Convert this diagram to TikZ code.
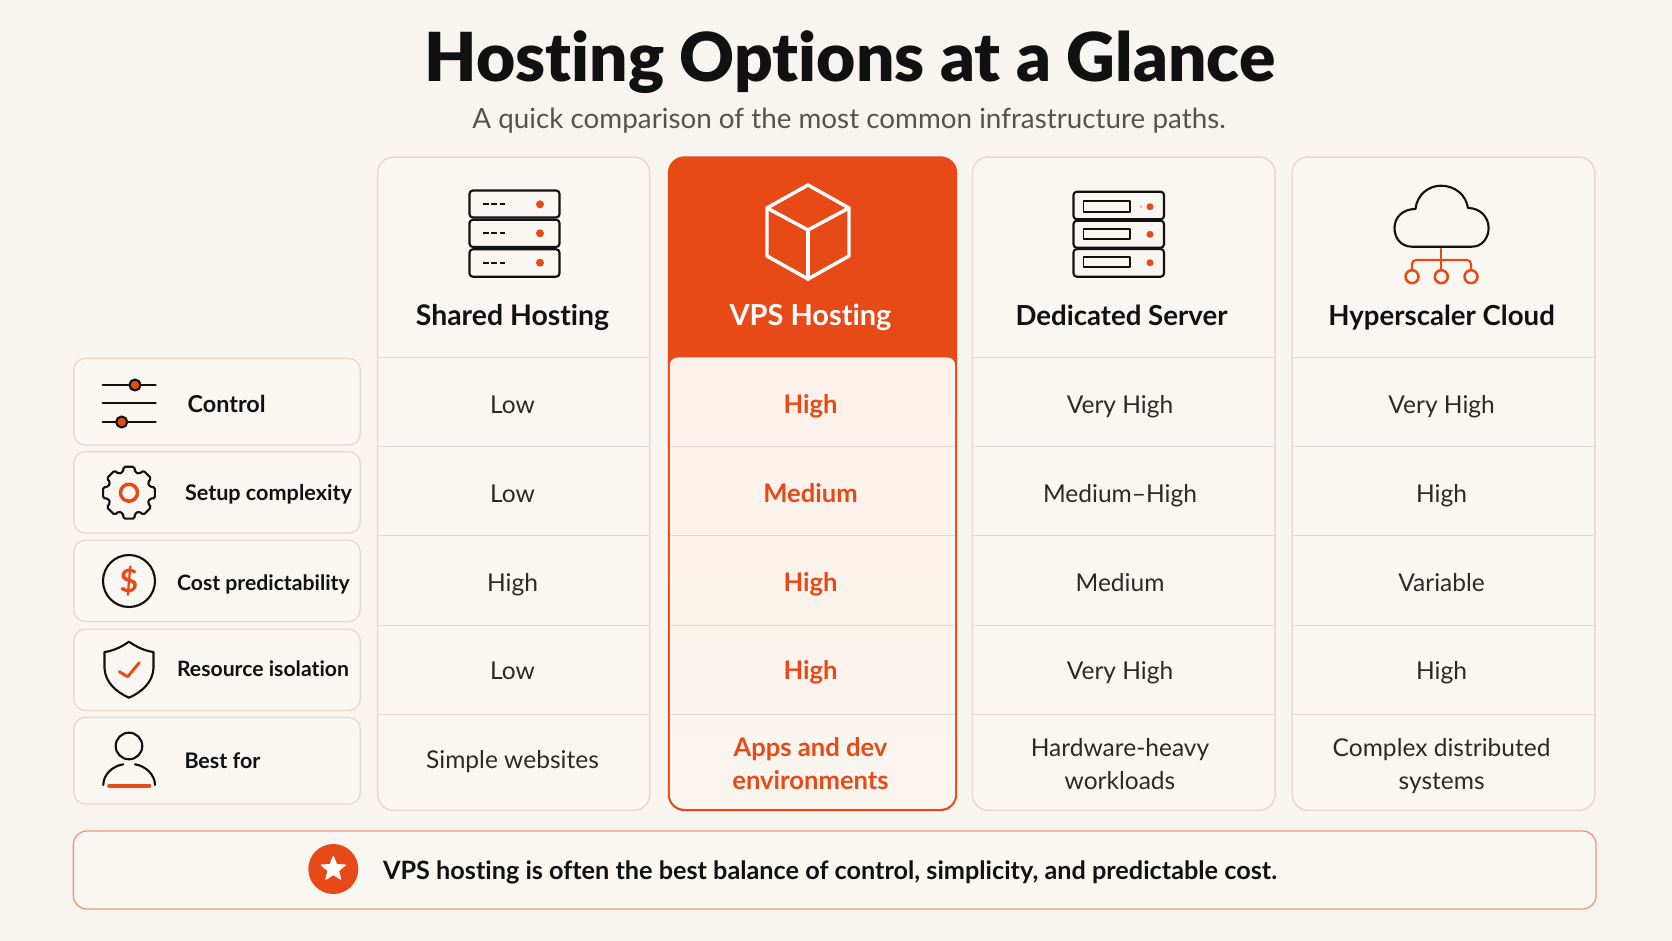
\documentclass[tikz,border=0pt]{standalone}
\usepackage{fontspec}
\setmainfont{Lato}[Ligatures=NoCommon]
\newfontfamily\titlefont{Lato Black}[Ligatures=NoCommon]
\usetikzlibrary{positioning, shapes.geometric}

\definecolor{pagebg}{HTML}{F8F5F0}
\definecolor{cardbg}{HTML}{FAF7F3}
\definecolor{cardline}{HTML}{E5DACD}
\definecolor{accent}{HTML}{E84A17}
\definecolor{accentpale}{HTML}{F19A7C}
\definecolor{vpstop}{HTML}{FDF2EB}
\definecolor{vpsend}{HTML}{FAF5EF}
\definecolor{inkdark}{HTML}{111111}
\definecolor{inkgrey}{HTML}{55534F}
\definecolor{inkbody}{HTML}{2B2A28}

\begin{document}
\begin{tikzpicture}[
        x=0.75pt, y=-0.75pt,
        every node/.style={inner sep=0pt, outer sep=0pt},
        maintitle/.style={font=\fontsize{50.7pt}{54pt}\titlefont, text=inkdark},
        subtitle/.style={font=\fontsize{20.85pt}{24pt}\selectfont, text=inkgrey},
        colcard/.style={draw=cardline, line width=1.1pt, fill=cardbg, rounded corners=12pt, minimum height=490pt},
        vpscard/.style={draw=accent, fill=accent, line width=1.1pt, rounded corners=12pt, minimum width=216pt, minimum height=490pt},
        vpsbody/.style={minimum width=214pt, minimum height=338.5pt},
        rowlabel/.style={draw=cardline, line width=1pt, fill=cardbg, rounded corners=9pt, minimum width=215pt},
        labeltext/.style={anchor=west, font=\fontsize{16pt}{20pt}\selectfont\bfseries, text=inkdark},
        coltitle/.style={font=\fontsize{20.7pt}{24pt}\selectfont\bfseries, text=inkdark, text height=15pt, text depth=5pt},
        cell/.style={font=\fontsize{18.4pt}{24.75pt}\selectfont, text=inkbody, align=center, text height=13pt, text depth=4pt, minimum height=66.75pt},
        cellwide/.style={font=\fontsize{18.4pt}{24.75pt}\selectfont, text=inkbody, align=center},
        vpscell/.style={cell, text=accent, font=\fontsize{19.2pt}{24.75pt}\selectfont\bfseries},
        vpswide/.style={cellwide, text=accent, font=\fontsize{19.2pt}{24.75pt}\selectfont\bfseries},
        sep/.style={draw=cardline, line width=0.9pt},
        banner/.style={draw=accentpale, line width=1pt, fill=cardbg, rounded corners=10pt, minimum width=1142pt, minimum height=58.5pt},
        bannertext/.style={anchor=west, font=\fontsize{18.93pt}{23pt}\selectfont\bfseries, text=inkdark},
        badge/.style={circle, fill=accent, minimum size=37.5pt},
        badgestar/.style={star, star points=5, star point ratio=2.3, fill=white, draw=white, line join=round, line width=0.8pt, minimum size=19pt},
        icon/.style={draw=inkdark, line width=1.6pt, line cap=round, line join=round},
        iconhot/.style={draw=accent, line width=1.6pt, line cap=round, line join=round},
        dot/.style={fill=accent}
    ]

    \useasboundingbox[fill=pagebg] (0,0) rectangle (1672,941);

    % Heading
    \node[maintitle] (title) at (850,62) {Hosting Options at a Glance};
    \node[subtitle] (sub) at (849,121) {A quick comparison of the most common infrastructure paths.};

    % Columns
    \node[colcard, minimum width=204pt] (sharedcol) at (513.7,483.7) {};
    \node[vpscard] (vpscol) at (812.5,483.7) {};
    \node[colcard, minimum width=227pt] (dedcol) at (1123.7,483.7) {};
    \node[colcard, minimum width=227pt] (cloudcol) at (1443.5,483.7) {};
    \node[vpsbody, anchor=north] (vpsrows) at (812.5,357.5) {};
    \shade[top color=vpstop, bottom color=vpsend]
        (vpsrows.west |- vpsrows.center) [rounded corners=6pt] -- (vpsrows.north west) -- (vpsrows.north east) -- (vpsrows.east)
        [rounded corners=11pt] -- (vpsrows.south east) -- (vpsrows.south west) -- cycle;

    % Header rules
    \draw[sep] (sharedcol.west |- 0,357.5) -- (sharedcol.east |- 0,357.5);
    \draw[sep] (dedcol.west |- 0,357.5) -- (dedcol.east |- 0,357.5);
    \draw[sep] (cloudcol.west |- 0,357.5) -- (cloudcol.east |- 0,357.5);

    % Row rules
    \draw[sep] (sharedcol.west |- 0,446.7) -- (sharedcol.east |- 0,446.7);
    \draw[sep] (sharedcol.west |- 0,535.7) -- (sharedcol.east |- 0,535.7);
    \draw[sep] (sharedcol.west |- 0,625.5) -- (sharedcol.east |- 0,625.5);
    \draw[sep] (sharedcol.west |- 0,714.5) -- (sharedcol.east |- 0,714.5);
    \draw[sep] (vpsrows.west |- 0,446.7) -- (vpsrows.east |- 0,446.7);
    \draw[sep] (vpsrows.west |- 0,535.7) -- (vpsrows.east |- 0,535.7);
    \draw[sep] (vpsrows.west |- 0,625.5) -- (vpsrows.east |- 0,625.5);
    \draw[sep] (vpsrows.west |- 0,714.5) -- (vpsrows.east |- 0,714.5);
    \draw[sep] (dedcol.west |- 0,446.7) -- (dedcol.east |- 0,446.7);
    \draw[sep] (dedcol.west |- 0,535.7) -- (dedcol.east |- 0,535.7);
    \draw[sep] (dedcol.west |- 0,625.5) -- (dedcol.east |- 0,625.5);
    \draw[sep] (dedcol.west |- 0,714.5) -- (dedcol.east |- 0,714.5);
    \draw[sep] (cloudcol.west |- 0,446.7) -- (cloudcol.east |- 0,446.7);
    \draw[sep] (cloudcol.west |- 0,535.7) -- (cloudcol.east |- 0,535.7);
    \draw[sep] (cloudcol.west |- 0,625.5) -- (cloudcol.east |- 0,625.5);
    \draw[sep] (cloudcol.west |- 0,714.5) -- (cloudcol.east |- 0,714.5);

    % Column titles
    \node[coltitle, font=\fontsize{21.3pt}{24pt}\selectfont\bfseries] (sharedhead) at (512.5,319) {Shared Hosting};
    \node[coltitle, font=\fontsize{21.7pt}{24pt}\selectfont\bfseries, text=white] (vpshead) at (810.5,319) {VPS Hosting};
    \node[coltitle] (dedhead) at (1121.5,319) {Dedicated Server};
    \node[coltitle] (cloudhead) at (1441.6,319) {Hyperscaler Cloud};

    % Shared Hosting cells
    \node[cell] (s1) at (512.5,407.3) {Low};
    \node[cell, below=0pt of s1] (s2) {Low};
    \node[cell, below=0pt of s2] (s3) {High};
    \node[cell, below=0pt of s3, yshift=0.75pt] (s4) {Low};
    \node[cellwide] (s5) at (512.5,762) {Simple websites};

    % VPS Hosting cells
    \node[vpscell] (v1) at (810.5,407.3) {High};
    \node[vpscell, below=0pt of v1] (v2) {Medium};
    \node[vpscell, below=0pt of v2] (v3) {High};
    \node[vpscell, below=0pt of v3, yshift=0.75pt] (v4) {High};
    \node[vpswide] (v5) at (810.5,764) {Apps and dev\\environments};

    % Dedicated Server cells
    \node[cell] (d1) at (1120,407.3) {Very High};
    \node[cell, below=0pt of d1] (d2) {Medium--High};
    \node[cell, below=0pt of d2] (d3) {Medium};
    \node[cell, below=0pt of d3, yshift=0.75pt] (d4) {Very High};
    \node[cellwide] (d5) at (1120,764) {Hardware-heavy\\workloads};

    % Hyperscaler Cloud cells
    \node[cell] (h1) at (1441.6,407.3) {Very High};
    \node[cell, below=0pt of h1] (h2) {High};
    \node[cell, below=0pt of h2] (h3) {Variable};
    \node[cell, below=0pt of h3, yshift=0.75pt] (h4) {High};
    \node[cellwide] (h5) at (1441.6,766) {Complex distributed\\systems};

    % Row labels
    \node[rowlabel, minimum height=65pt] (controlbox) at (217,401.7) {};
    \node[rowlabel, minimum height=61pt] (setupbox) at (217,492.4) {};
    \node[rowlabel, minimum height=61pt] (costbox) at (217,580.9) {};
    \node[rowlabel, minimum height=61pt] (isolbox) at (217,669.9) {};
    \node[rowlabel, minimum height=65pt] (bestbox) at (217,760.7) {};
    \node[labeltext, font=\fontsize{17.5pt}{20pt}\selectfont\bfseries] (controltxt) at (187.7,404) {Control};
    \node[labeltext, font=\fontsize{16.2pt}{20pt}\selectfont\bfseries] (setuptxt) at (185,494.7) {Setup complexity};
    \node[labeltext, font=\fontsize{15.9pt}{20pt}\selectfont\bfseries] (costtxt) at (177,584) {Cost predictability};
    \node[labeltext, font=\fontsize{15.9pt}{20pt}\selectfont\bfseries] (isoltxt) at (177,668.6) {Resource isolation};
    \node[labeltext, font=\fontsize{16.1pt}{20pt}\selectfont\bfseries] (besttxt) at (184.5,761) {Best for};

    % Icon: sliders
    \draw[icon] (102.7,385) -- (155.7,385);
    \draw[icon] (102.7,403.3) -- (155.7,403.3);
    \draw[icon] (102.7,422) -- (155.7,422);
    \draw[icon, fill=accent] (135,385) circle[radius=5.5];
    \draw[icon, fill=accent] (121.7,422) circle[radius=5.5];

    % Icon: gear
    \draw[icon, rounded corners=1.2pt, shift={(129,492.7)}] (-16:21.5)
        \foreach \a in {0,45,...,270}{ -- (\a-12:26.5) -- (\a+12:26.5) -- (\a+16:21.5) -- (\a+29:21.5) }
        -- (303:26.5) -- (327:26.5) -- (331:21.5) -- cycle;
    \draw[iconhot, line width=2.6pt] (129,492.7) circle[radius=8.5];

    % Icon: dollar coin
    \draw[icon] (129,581) circle[radius=26];
    \node[font=\fontsize{24pt}{24pt}\selectfont\bfseries, text=accent] (coinsign) at (129,581) {\$};

    % Icon: shield
    \draw[icon] (129,641.7) .. controls (120,648) and (112,651) .. (104.5,652) -- (104.5,668)
        .. controls (105,682) and (116,692) .. (129,697.7)
        .. controls (142,692) and (153,682) .. (153.5,668) -- (153.5,652)
        .. controls (146,651) and (138,648) .. (129,641.7) -- cycle;
    \draw[iconhot, line width=2.2pt] (119.3,671.7) -- (127.7,676.7) -- (139.3,662.7);

    % Icon: person
    \draw[icon] (129,746) circle[radius=13.3];
    \draw[icon] (103.3,785) .. controls (103.3,775) and (112,766) .. (123.3,764.3);
    \draw[icon] (155,785) .. controls (155,775) and (146,766) .. (135,764.3);
    \draw[iconhot, line width=3.2pt] (109.3,785.7) -- (149.3,785.7);

    % Icon: shared server
    \draw[icon, rounded corners=2.5pt] (469.5,190.5) rectangle (559.5,217.5);
    \draw[icon, rounded corners=2.5pt] (469.5,219.7) rectangle (559.5,247);
    \draw[icon, rounded corners=2.5pt] (469.5,249.3) rectangle (559.5,276.7);
    \draw[icon, dash pattern=on 4.2pt off 2.1pt, line cap=butt] (483,204.3) -- (506,204.3);
    \draw[icon, dash pattern=on 4.2pt off 2.1pt, line cap=butt] (483,233.3) -- (506,233.3);
    \draw[icon, dash pattern=on 4.2pt off 2.1pt, line cap=butt] (483,262.7) -- (506,262.7);
    \fill[dot] (540,204.3) circle[radius=4];
    \fill[dot] (540,233.3) circle[radius=4];
    \fill[dot] (540,262.7) circle[radius=4];

    % Icon: cube
    \draw[icon, draw=white, line width=2.6pt] (808,185) -- (849,208) -- (849,256) -- (808,279) -- (767,256) -- (767,208) -- cycle;
    \draw[icon, draw=white, line width=2.6pt] (767,208) -- (808,230) -- (849,208);
    \draw[icon, draw=white, line width=2.6pt] (808,230) -- (808,279);

    % Icon: dedicated server
    \draw[icon, rounded corners=2.5pt] (1073.5,191.7) rectangle (1164,219.3);
    \draw[icon, rounded corners=2.5pt] (1073.5,220.7) rectangle (1164,247.7);
    \draw[icon, rounded corners=2.5pt] (1073.5,249) rectangle (1164,276.7);
    \draw[icon, line width=1.3pt] (1083.5,201) rectangle (1130,211.7);
    \draw[icon, line width=1.3pt] (1083.5,229) rectangle (1130,239.3);
    \draw[icon, line width=1.3pt] (1083.5,257.3) rectangle (1130,267.3);
    \fill[dot] (1150,206.7) circle[radius=3.5];
    \fill[dot] (1150,234.3) circle[radius=3.5];
    \fill[dot] (1150,262.7) circle[radius=3.5];
    \fill[dot, opacity=0.35] (1141,206.7) circle[radius=1.5];

    % Icon: cloud
    \draw[icon] (1412,246.7) .. controls (1401,246.7) and (1394.5,238) .. (1394.5,228)
        .. controls (1394.5,217) and (1403,209) .. (1415.5,209)
        .. controls (1417,195) and (1428,185.7) .. (1441,185.7)
        .. controls (1455,185.7) and (1466,195) .. (1468,208)
        .. controls (1480,208) and (1488.6,217) .. (1488.6,228)
        .. controls (1488.6,238) and (1482,246.7) .. (1472,246.7) -- cycle;
    \draw[iconhot] (1441.3,249) -- (1441.3,270);
    \draw[iconhot, rounded corners=3pt] (1412,270) -- (1412,260) -- (1471,260) -- (1471,270);
    \draw[iconhot, line width=1.9pt] (1412,276.7) circle[radius=6.5];
    \draw[iconhot, line width=1.9pt] (1441.3,276.7) circle[radius=6.5];
    \draw[iconhot, line width=1.9pt] (1471,276.7) circle[radius=6.5];

    % Takeaway
    \node[banner] (takeaway) at (834.7,870) {};
    \node[badge] (takebadge) at (333.3,869) {};
    \node[badgestar] (takestar) at (333.3,869) {};
    \node[bannertext] (taketxt) at (383,872) {VPS hosting is often the best balance of control, simplicity, and predictable cost.};

\end{tikzpicture}
\end{document}
